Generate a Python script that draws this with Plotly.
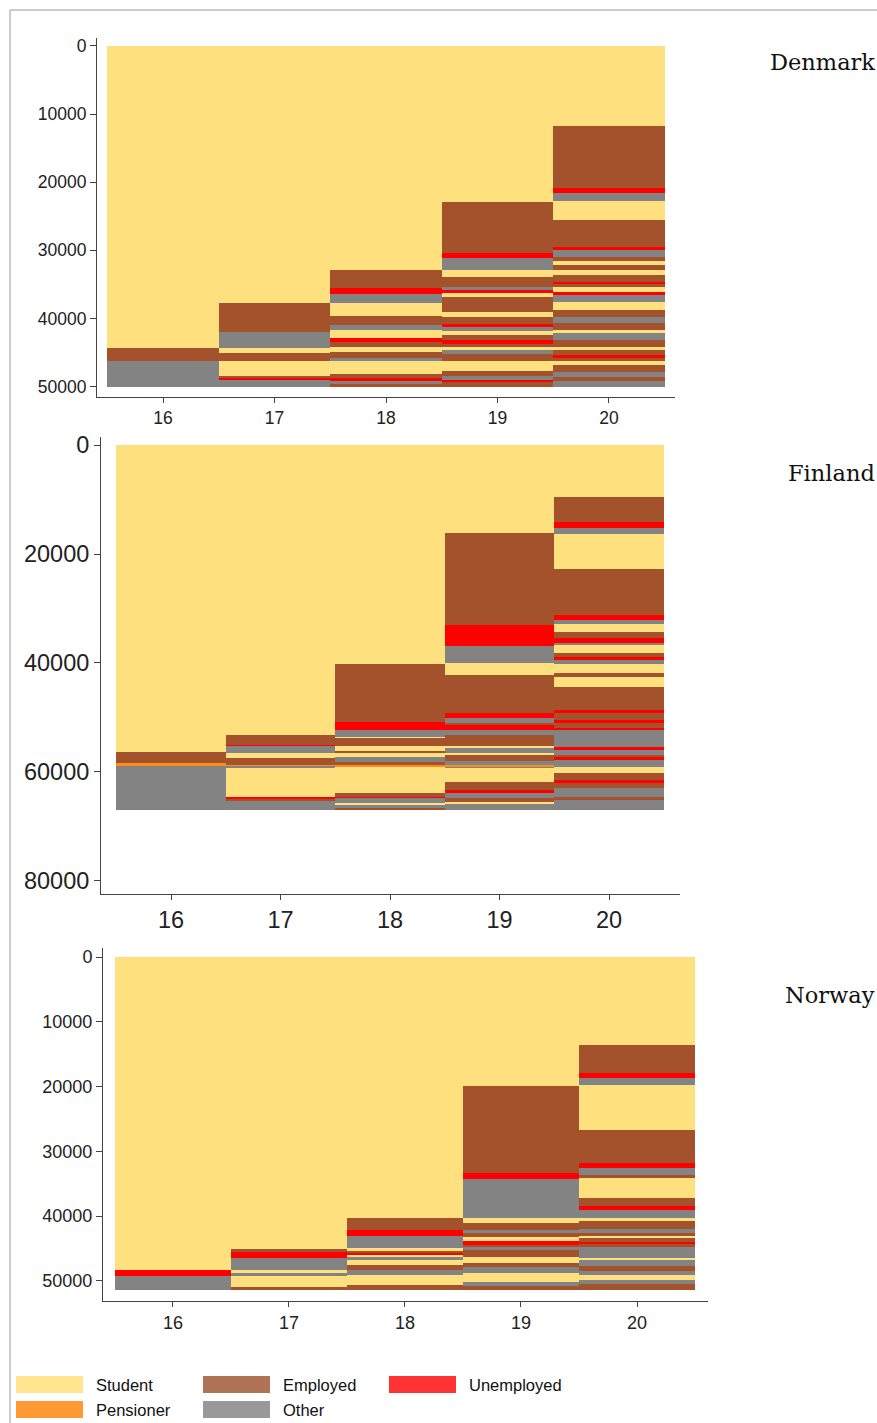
import plotly.graph_objects as go

W, H = 877, 1423


def px(xp):
    return xp / W


def py(yp):
    return 1 - yp / H


AGES = [16, 17, 18, 19, 20]
STATES = ["S", "P", "E", "U", "O"]
STATE_NAMES = {"S": "Student", "P": "Pensioner", "E": "Employed", "U": "Unemployed", "O": "Other"}
BAR_COLORS = {"S": "#FEE07E", "P": "#FF8C1A", "E": "#A3522B", "U": "#FF0000", "O": "#838383"}
LEGEND_COLORS = {"S": "#FFE58F", "P": "#FF9933", "E": "#B07355", "U": "#FF3333", "O": "#999999"}

# Sequence blocks per age: (state, cumulative end of block)
DK_16 = [("S", 44400), ("E", 46200), ("O", 50000)]
DK_17 = [("S", 37800), ("E", 42000), ("O", 44400), ("S", 45150), ("E", 46200), ("S", 48500), ("E", 48800), ("U", 49100), ("O", 50000)]
DK_18 = [("S", 32900), ("E", 35600), ("U", 36400), ("O", 37800), ("S", 39700), ("E", 41000), ("O", 41700), ("S", 42900), ("U", 43500), ("E", 44200), ("S", 45000), ("E", 45800), ("O", 46200), ("S", 48200), ("E", 48800), ("U", 49200), ("O", 49600), ("E", 50000)]
DK_19 = [("S", 22900), ("E", 30400), ("U", 31200), ("O", 32900), ("S", 33900), ("E", 35400), ("O", 35900), ("U", 36300), ("S", 36900), ("E", 39100), ("S", 39800), ("E", 40800), ("U", 41200), ("O", 41800), ("S", 42500), ("E", 43200), ("U", 43700), ("E", 44200), ("S", 44700), ("O", 45200), ("E", 46200), ("S", 47700), ("E", 48400), ("O", 49000), ("U", 49400), ("E", 50000)]
DK_20 = [("S", 11800), ("E", 20900), ("U", 21600), ("O", 22700), ("S", 25600), ("E", 29500), ("U", 30000), ("O", 31000), ("E", 31500), ("S", 32200), ("E", 32900), ("S", 33700), ("E", 34600), ("U", 35000), ("E", 35400), ("S", 36100), ("U", 36600), ("O", 37600), ("S", 38800), ("E", 39800), ("O", 40700), ("E", 41700), ("S", 42200), ("O", 43200), ("E", 44200), ("S", 44700), ("E", 45400), ("U", 45800), ("E", 46200), ("S", 46900), ("E", 47800), ("O", 48600), ("E", 49200), ("O", 50000)]

FI_16 = [("S", 56400), ("E", 58400), ("P", 58900), ("O", 67000)]
FI_17 = [("S", 53300), ("E", 55000), ("U", 55200), ("O", 56500), ("S", 57500), ("E", 58700), ("P", 58900), ("O", 59300), ("S", 64500), ("U", 65000), ("E", 65400), ("O", 67000)]
FI_18 = [("S", 40200), ("E", 50800), ("U", 52300), ("O", 53500), ("S", 53800), ("E", 55200), ("S", 56100), ("E", 56600), ("S", 57200), ("O", 58200), ("E", 58800), ("P", 59000), ("S", 63800), ("E", 64500), ("U", 64800), ("O", 65600), ("S", 66000), ("O", 66600), ("E", 67000)]
FI_19 = [("S", 16200), ("E", 33000), ("U", 36900), ("O", 40000), ("S", 42200), ("E", 49200), ("U", 50100), ("O", 51000), ("E", 51400), ("U", 52300), ("O", 53300), ("E", 55300), ("S", 55600), ("O", 56500), ("S", 56800), ("E", 58000), ("O", 58800), ("P", 59000), ("O", 59300), ("S", 61900), ("E", 63300), ("U", 63800), ("O", 64700), ("E", 65500), ("S", 65900), ("O", 67000)]
FI_20 = [("S", 9500), ("E", 14200), ("U", 15300), ("O", 16300), ("S", 22800), ("E", 31200), ("U", 32200), ("O", 32800), ("S", 34300), ("E", 35400), ("U", 36300), ("O", 36700), ("S", 38100), ("E", 38900), ("U", 39400), ("O", 40200), ("S", 41900), ("E", 42500), ("S", 44400), ("E", 48600), ("U", 49200), ("E", 50500), ("U", 51100), ("E", 52000), ("U", 52300), ("O", 55400), ("U", 56000), ("O", 56900), ("E", 57300), ("U", 57800), ("O", 59000), ("S", 60100), ("E", 61500), ("U", 62000), ("E", 63000), ("O", 64500), ("E", 65100), ("O", 67000)]

NO_16 = [("S", 48300), ("U", 49300), ("O", 51400)]
NO_17 = [("S", 45000), ("E", 45600), ("U", 46500), ("O", 48300), ("S", 48800), ("O", 49300), ("S", 50900), ("E", 51400)]
NO_18 = [("S", 40300), ("E", 42100), ("U", 43100), ("O", 44900), ("S", 45300), ("E", 45700), ("U", 46000), ("S", 46300), ("O", 46700), ("S", 47500), ("E", 48300), ("O", 49100), ("S", 50600), ("E", 51400)]
NO_19 = [("S", 19900), ("E", 33400), ("U", 34200), ("O", 40300), ("S", 41100), ("E", 42100), ("O", 42600), ("E", 43200), ("S", 43900), ("U", 44400), ("E", 44700), ("O", 45200), ("E", 46300), ("S", 47300), ("E", 47800), ("O", 48800), ("S", 50100), ("O", 50800), ("E", 51400)]
NO_20 = [("S", 13600), ("E", 17900), ("U", 18700), ("O", 19700), ("S", 26700), ("E", 31800), ("U", 32600), ("O", 33600), ("E", 34100), ("S", 37200), ("E", 38500), ("U", 39000), ("O", 40300), ("S", 40800), ("E", 42000), ("O", 42600), ("E", 43100), ("S", 43400), ("E", 44000), ("U", 44300), ("E", 44700), ("O", 46500), ("S", 46800), ("O", 47700), ("E", 48400), ("O", 49100), ("S", 49800), ("O", 50500), ("E", 51400)]

COUNTRIES = ["Denmark", "Finland", "Norway"]
DK_TICKS = [0, 10000, 20000, 30000, 40000, 50000]
FI_TICKS = [0, 20000, 40000, 60000, 80000]
NO_TICKS = [0, 10000, 20000, 30000, 40000, 50000]

panels = [
    dict(name=COUNTRIES[0], cols=[DK_16, DK_17, DK_18, DK_19, DK_20], ticks=DK_TICKS,
         px_x=(97, 675), px_y=(38, 397), xr=(15.408, 20.592), yr=(51540, -1170),
         fs=17.5, title_y=62),
    dict(name=COUNTRIES[1], cols=[FI_16, FI_17, FI_18, FI_19, FI_20], ticks=FI_TICKS,
         px_x=(101, 680), px_y=(437, 894), xr=(15.36, 20.648), yr=(82390, -1470),
         fs=23.5, title_y=473),
    dict(name=COUNTRIES[2], cols=[NO_16, NO_17, NO_18, NO_19, NO_20], ticks=NO_TICKS,
         px_x=(103, 708), px_y=(948, 1301), xr=(15.397, 20.612), yr=(53090, -1390),
         fs=18, title_y=995),
]

fig = go.Figure()
annotations = []
shapes = []

for i, p in enumerate(panels):
    ax = "" if i == 0 else str(i + 1)
    for st in STATES:
        xs, ys, bases = [], [], []
        for age, col in zip(AGES, p["cols"]):
            start = 0
            for s, end in col:
                if s == st:
                    xs.append(age)
                    ys.append(end - start)
                    bases.append(start)
                start = end
        if xs:
            fig.add_trace(go.Bar(
                x=xs, y=ys, base=bases, width=1.0,
                marker=dict(color=BAR_COLORS[st], line=dict(width=0)),
                name=STATE_NAMES[st], showlegend=False,
                xaxis="x" + ax, yaxis="y" + ax,
            ))
    x0, x1 = p["px_x"]
    y0, y1 = p["px_y"]
    fig.layout["xaxis" + ax] = dict(
        domain=[px(x0), px(x1)], range=list(p["xr"]), anchor="y" + ax,
        tickvals=AGES, ticktext=[str(a) for a in AGES], automargin=False,
        showline=True, linecolor="#444", linewidth=1, mirror=False,
        ticks="outside", ticklen=5, tickcolor="#444", showgrid=False, zeroline=False,
        tickfont=dict(family="Liberation Sans, Arial", size=p["fs"], color="#222"),
    )
    fig.layout["yaxis" + ax] = dict(
        domain=[py(y1), py(y0)], range=list(p["yr"]), anchor="x" + ax,
        tickvals=p["ticks"], ticktext=[str(t) for t in p["ticks"]], automargin=False,
        showline=True, linecolor="#444", linewidth=1,
        ticks="outside", ticklen=6, tickcolor="#444", showgrid=False, zeroline=False,
        tickfont=dict(family="Liberation Sans, Arial", size=p["fs"], color="#222"),
    )
    annotations.append(dict(
        text=p["name"], x=px(877), y=py(p["title_y"]), xref="paper", yref="paper",
        xanchor="right", yanchor="middle", showarrow=False,
        font=dict(family="DejaVu Serif", size=22.5, color="#111"),
    ))

# frame lines
shapes.append(dict(type="line", xref="paper", yref="paper", x0=px(10), x1=px(10),
                   y0=0, y1=py(10), line=dict(color="#9a9a9a", width=1)))
shapes.append(dict(type="line", xref="paper", yref="paper", x0=px(10), x1=1,
                   y0=py(10), y1=py(10), line=dict(color="#9a9a9a", width=1)))

# legend
LEGEND_ORDER = [("S", 16, 1376), ("E", 203, 1376), ("U", 389, 1376), ("P", 16, 1401), ("O", 203, 1401)]
for st, lx, ly in LEGEND_ORDER:
    shapes.append(dict(type="rect", xref="paper", yref="paper",
                       x0=px(lx), x1=px(lx + 67), y0=py(ly + 17), y1=py(ly),
                       fillcolor=LEGEND_COLORS[st], line=dict(width=0)))
    annotations.append(dict(text=STATE_NAMES[st], x=px(lx + 78), y=py(ly + 9),
                            xref="paper", yref="paper", xanchor="left", yanchor="middle",
                            showarrow=False,
                            font=dict(family="Liberation Sans, Arial", size=16.5, color="#111")))

fig.update_layout(
    width=W, height=H, margin=dict(l=0, r=0, t=0, b=0, pad=0, autoexpand=False),
    paper_bgcolor="white", plot_bgcolor="white", showlegend=False,
    barmode="overlay", bargap=0, hovermode=False,
    annotations=annotations, shapes=shapes,
)

fig.write_html(
    "out.html",
    config={"displayModeBar": False, "staticPlot": True},
    post_script="document.body.style.margin='0px';"
                "document.documentElement.style.overflow='hidden';"
                "document.body.style.overflow='hidden';",
)
